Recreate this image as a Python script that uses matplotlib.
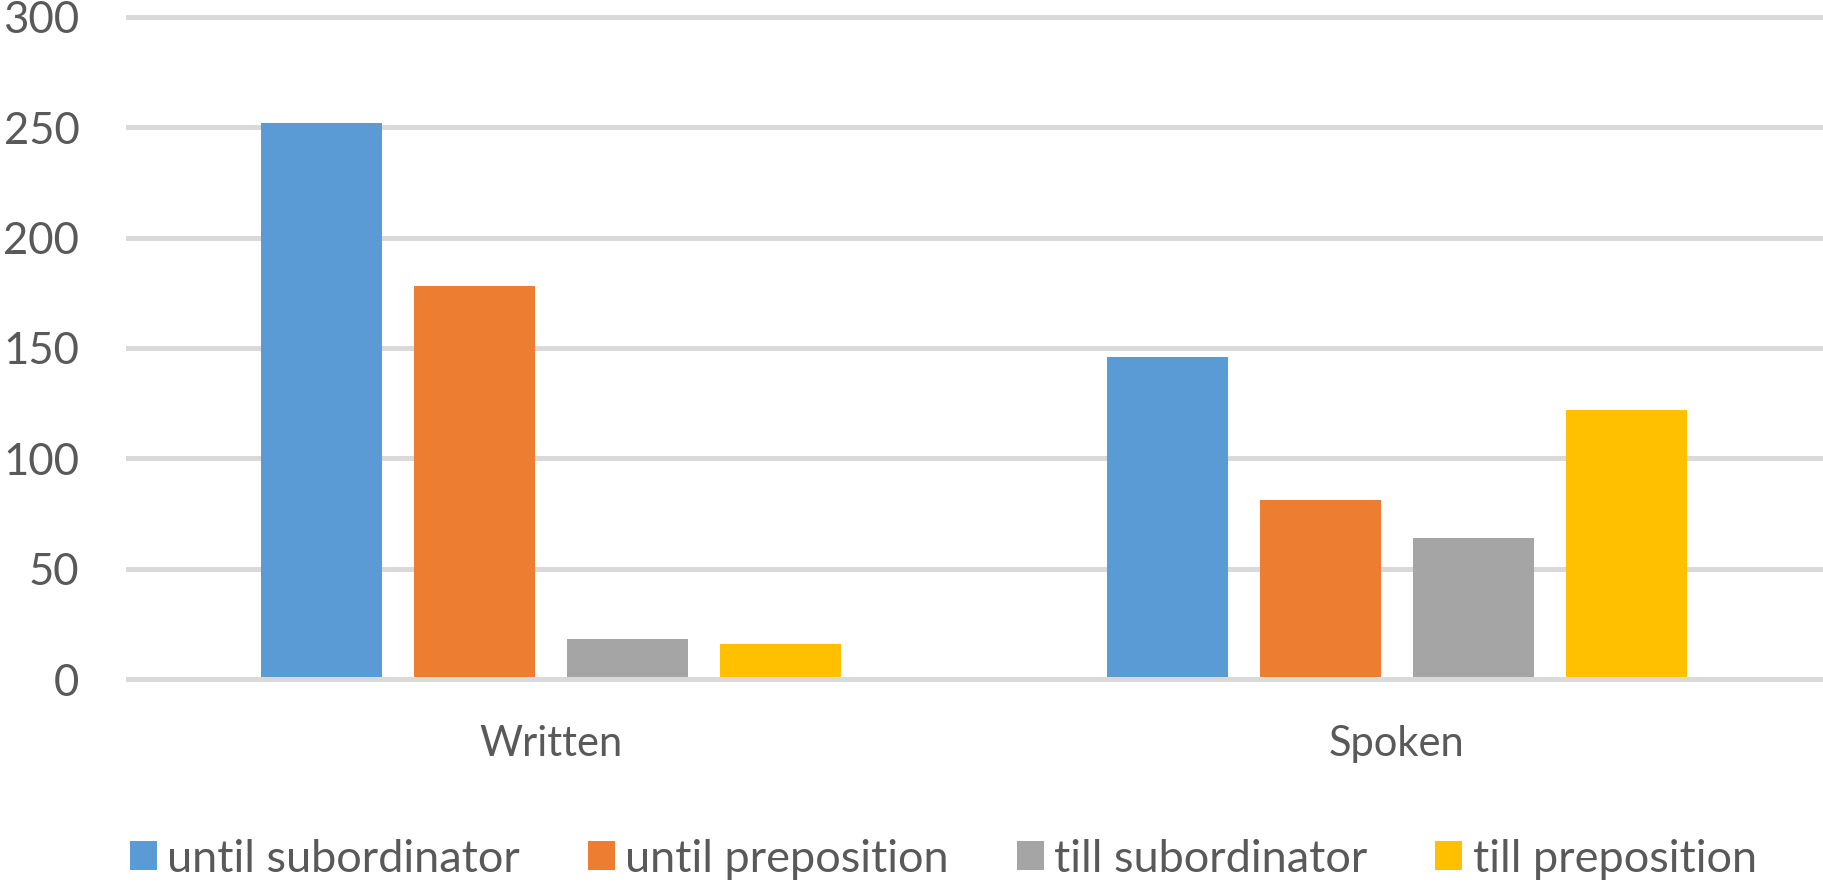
import numpy as np
import matplotlib
matplotlib.use("Agg")
import matplotlib.pyplot as plt

# values
categories = ["Written", "Spoken"]
series_names = ["until subordinator", "until preposition", "till subordinator", "till preposition"]
until_sub = [252, 146]
until_prep = [178, 81]
till_sub = [18, 64]
till_prep = [16, 122]
yticks = [0, 50, 100, 150, 200, 250, 300]

colors = ["#5B9BD5", "#ED7D31", "#A5A5A5", "#FFC000"]
text_col = "#595959"
grid_col = "#D9D9D9"

plt.rcParams['font.family'] = ['Lato', 'DejaVu Sans']

fig = plt.figure(figsize=(18.23, 8.83), dpi=100)
ax = fig.add_axes([128 / 1823, 1 - 679 / 883, 1692 / 1823, 662 / 883])

xVals = np.arange(len(categories))
pitch = 0.181
width1 = 0.143
allSeries = [until_sub, until_prep, till_sub, till_prep]
for i, vals in enumerate(allSeries):
    ax.bar(xVals + (i - 1.5) * pitch, vals, width=width1, color=colors[i],
           label=series_names[i], zorder=2)

for y in yticks:
    ax.axhline(y, color=grid_col, lw=3.6, zorder=3 if y == 0 else 1, clip_on=False)

ax.set_xlim(-0.5, 1.5)
ax.set_ylim(0, 300)
ax.set_yticks(yticks)
ax.set_xticks(xVals)
ax.set_xticklabels(categories)
for s in ax.spines.values():
    s.set_visible(False)
ax.tick_params(axis='y', length=0, pad=35, labelsize=31.5, labelcolor=text_col)
ax.tick_params(axis='x', length=0, pad=33, labelsize=30, labelcolor=text_col)

leg = fig.legend(loc='lower center', bbox_to_anchor=(0.5175, -0.027), ncol=4,
                 frameon=False, fontsize=32.5, handlelength=0.6, handleheight=0.62,
                 handletextpad=0.23, columnspacing=1.5, borderaxespad=0.2)
for t in leg.get_texts():
    t.set_color(text_col)

fig.savefig("out.png", dpi=100)
